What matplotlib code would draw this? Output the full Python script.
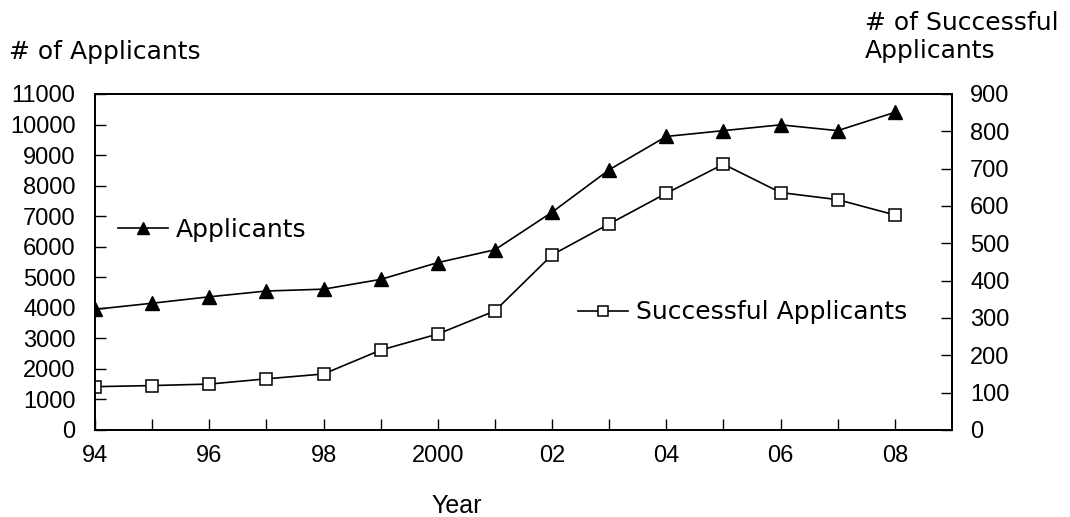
import matplotlib
matplotlib.use("Agg")
import matplotlib.pyplot as plt

# datos
anios = [1994, 1995, 1996, 1997, 1998, 1999, 2000, 2001, 2002, 2003, 2004, 2005, 2006, 2007, 2008]
aspirantes = [3950, 4150, 4360, 4550, 4610, 4930, 5480, 5900, 7130, 8520, 9610, 9800, 9990, 9800, 10400]
aprobados = [116, 119, 123, 137, 150, 214, 257, 319, 469, 552, 634, 712, 636, 617, 576]
etiquetas_x = ["94", "96", "98", "2000", "02", "04", "06", "08"]

# numeros en fuente angosta, palabras en fuente ancha
plt.rcParams['font.family'] = ['Liberation Sans', 'DejaVu Sans']
fs_num = 17
fs_txt = 18
fam_txt = ['DejaVu Sans']

fig = plt.figure(figsize=(10.7, 5.17), dpi=100)
ax = fig.add_axes([0.0888, 0.1683, 0.8009, 0.6499])
ax2 = ax.twinx()

l1, = ax.plot(anios, aspirantes, color='black', lw=1.2, marker='^', ms=9.5,
              mfc='black', mec='black', label='Applicants')
l2, = ax2.plot(anios, aprobados, color='black', lw=1.2, marker='s', ms=8,
               mfc='white', mec='black', mew=1.1, label='Successful Applicants')

ax.set_xlim(1994, 2009)
ax.set_ylim(0, 11000)
ax2.set_ylim(0, 900)

ax.set_xticks(anios)
ax.set_xticklabels([etiquetas_x[i // 2] if i % 2 == 0 else "" for i in range(len(anios))])
ax.set_yticks(range(0, 11001, 1000))
ax2.set_yticks(range(0, 901, 100))

ax.tick_params(axis='y', direction='in', length=8, width=1, labelsize=fs_num, pad=14)
ax.tick_params(axis='x', direction='in', length=8, width=1, labelsize=fs_num, pad=11)
ax2.tick_params(axis='y', direction='in', length=8, width=1, labelsize=fs_num, pad=13)

for a in (ax, ax2):
    for s in a.spines.values():
        s.set_linewidth(1.3)

ax.set_xlabel("Year", fontsize=18)
ax.xaxis.set_label_coords(0.422, -0.19)

fig.text(0.008, 0.90, "# of Applicants", fontsize=fs_txt, family=fam_txt,
         va='center', ha='left')
fig.text(0.808, 0.928, "# of Successful\nApplicants", fontsize=fs_txt, family=fam_txt,
         va='center', ha='left', linespacing=1.2)

ley1 = ax.legend(handles=[l1], loc='center left', bbox_to_anchor=(0.0, 0.595), frameon=False,
                 prop={'family': fam_txt, 'size': fs_txt}, handlelength=2.0,
                 handletextpad=0.35, borderaxespad=0.5, markerscale=0.85)
ley2 = ax2.legend(handles=[l2], loc='center left', bbox_to_anchor=(0.537, 0.35), frameon=False,
                  prop={'family': fam_txt, 'size': fs_txt}, handlelength=2.0,
                  handletextpad=0.35, borderaxespad=0.5, markerscale=0.85)

fig.savefig("out.png", dpi=100)
